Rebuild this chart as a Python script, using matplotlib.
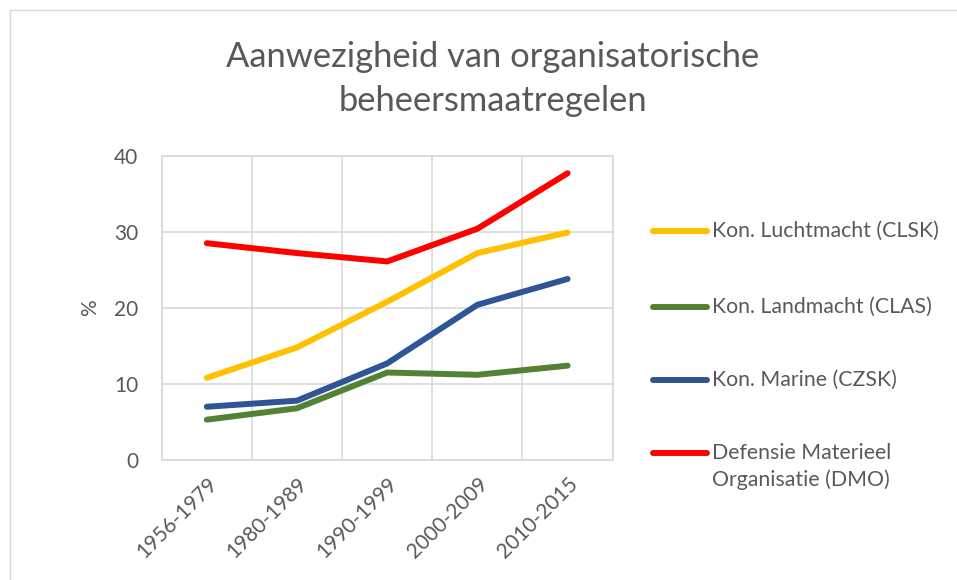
import matplotlib
matplotlib.use("Agg")
import matplotlib.pyplot as plt
from matplotlib.lines import Line2D
from matplotlib.patches import Rectangle

categories = ["1956-1979", "1980-1989", "1990-1999", "2000-2009", "2010-2015"]
series_names = ["Kon. Luchtmacht (CLSK)", "Kon. Landmacht (CLAS)", "Kon. Marine (CZSK)",
                "Defensie Materieel\nOrganisatie (DMO)"]
luchtmacht = [10.8, 14.8, 20.8, 27.2, 29.9]
landmacht = [5.3, 6.8, 11.5, 11.2, 12.4]
marine = [7.0, 7.8, 12.7, 20.4, 23.8]
dmo = [28.5, 27.2, 26.1, 30.4, 37.7]
colors = ["#FFC000", "#548235", "#2F5597", "#FF0000"]
yticks = [0, 10, 20, 30, 40]

TXT = "#595959"
FONT = "Lato"
plt.rcParams['font.family'] = [FONT, 'DejaVu Sans']

W, H = 957, 580
fig = plt.figure(figsize=(W / 100, H / 100), dpi=100)
fig.patches.append(Rectangle((10 / W, -0.1), 1.2, (H - 10) / H + 0.1, transform=fig.transFigure,
                             fill=False, edgecolor="#D9D9D9", linewidth=1.0))

ax = fig.add_axes([161.7 / W, 1 - 460 / H, (612.7 - 161.7) / W, (460 - 155.7) / H])
x = list(range(len(categories)))
order = [landmacht, marine, luchtmacht, dmo]
order_c = [colors[1], colors[2], colors[0], colors[3]]
for vals, c in zip(order, order_c):
    ax.plot(x, vals, color=c, linewidth=4.3, solid_capstyle='round', solid_joinstyle='round', zorder=3)

ax.set_xlim(-0.5, len(categories) - 0.5)
ax.set_ylim(0, 40)
ax.set_yticks(yticks)
ax.set_yticklabels([str(v) for v in yticks], fontsize=15, color=TXT)
ax.set_xticks(x)
ax.set_xticklabels(categories, fontsize=15, color=TXT, rotation=45, ha='right', va='top',
                   rotation_mode='anchor')
ax.set_xticks([i - 0.5 for i in range(len(categories) + 1)], minor=True)
ax.tick_params(axis='both', which='both', length=0)
ax.tick_params(axis='y', pad=17)
ax.tick_params(axis='x', pad=10)
ax.grid(True, which='major', axis='y', color="#D9D9D9", linewidth=1.2)
ax.grid(True, which='minor', axis='x', color="#D9D9D9", linewidth=1.2)
for s in ax.spines.values():
    s.set_color("#D9D9D9")
    s.set_linewidth(1.2)
ax.set_axisbelow(True)
ax.set_ylabel("%", fontsize=15, color=TXT, labelpad=10)

fig.text(493 / W, 1 - 57 / H, "Aanwezigheid van organisatorische", ha='center', va='center',
         fontsize=24.8, color=TXT)
fig.text(493 / W, 1 - 101 / H, "beheersmaatregelen", ha='center', va='center',
         fontsize=24.8, color=TXT)

leg_y = [231, 307, 380, 453]
for name, c, yy in zip(series_names, colors, leg_y):
    fig.add_artist(Line2D([653 / W, 707 / W], [1 - yy / H, 1 - yy / H], transform=fig.transFigure,
                          color=c, linewidth=4.3, solid_capstyle='round'))
    lines = name.split('\n')
    for k, ln in enumerate(lines):
        fig.text(712 / W, 1 - (yy + 27 * k) / H, ln, ha='left', va='center', fontsize=15.3, color=TXT)

fig.savefig("out.png", dpi=100)
